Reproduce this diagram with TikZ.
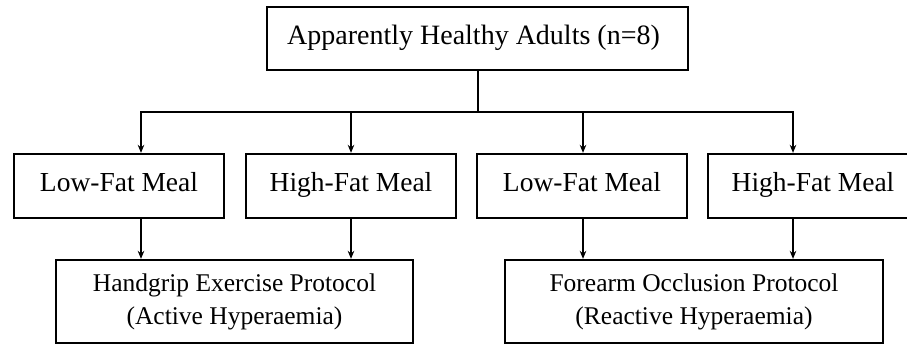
\documentclass[tikz,border=0pt]{standalone}
\usepackage{fontspec}
\setmainfont{Liberation Serif}
\usetikzlibrary{arrows.meta}
\begin{document}
\begin{tikzpicture}[x=1pt,y=-1pt,
  box/.style={draw, line width=2.3pt, inner sep=0pt, align=center},
  meal/.style={box, minimum width=210pt, minimum height=64pt, text height=18pt, text depth=8pt, font=\fontsize{27.5}{33}\selectfont},
  proto/.style={box, minimum height=83pt, font=\fontsize{25.5}{33}\selectfont},
  ln/.style={line width=2pt},
  arr/.style={line width=2pt, -{Stealth[length=8pt,width=6.5pt]}}]
\clip (0,0) rectangle (907,345);
\node[box, minimum width=421pt, minimum height=63pt, text height=19pt, text depth=7pt, font=\fontsize{28}{33}\selectfont] (top) at (477.5,38.5) {Apparently Healthy Adults (n=8)\hspace{8pt}};
\node[meal] (b1) at (119,186) {Low-Fat Meal};
\node[meal] (b2) at (351,186) {High-Fat Meal};
\node[meal] (b3) at (582,186) {Low-Fat Meal};
\node[meal] (b4) at (813,186) {High-Fat Meal};
\node[proto, minimum width=357pt] (h1) at (234.5,301.5) {Handgrip Exercise Protocol\\(Active Hyperaemia)};
\node[proto, minimum width=378pt] (h2) at (694,301.5) {Forearm Occlusion Protocol\\(Reactive Hyperaemia)};
\coordinate (c1) at (141,112);
\coordinate (c2) at (351,112);
\coordinate (c3) at (583,112);
\coordinate (c4) at (793,112);
\draw[ln] (top.south) -- (top.south |- c1);
\draw[ln, line cap=rect] (c1) -- (c4);
\draw[arr] (c1) -- (c1 |- b1.north);
\draw[arr] (c2) -- (c2 |- b2.north);
\draw[arr] (c3) -- (c3 |- b3.north);
\draw[arr] (c4) -- (c4 |- b4.north);
\draw[arr] (c1 |- b1.south) -- (c1 |- h1.north);
\draw[arr] (c2 |- b2.south) -- (c2 |- h1.north);
\draw[arr] (c3 |- b3.south) -- (c3 |- h2.north);
\draw[arr] (c4 |- b4.south) -- (c4 |- h2.north);
\end{tikzpicture}
\end{document}
